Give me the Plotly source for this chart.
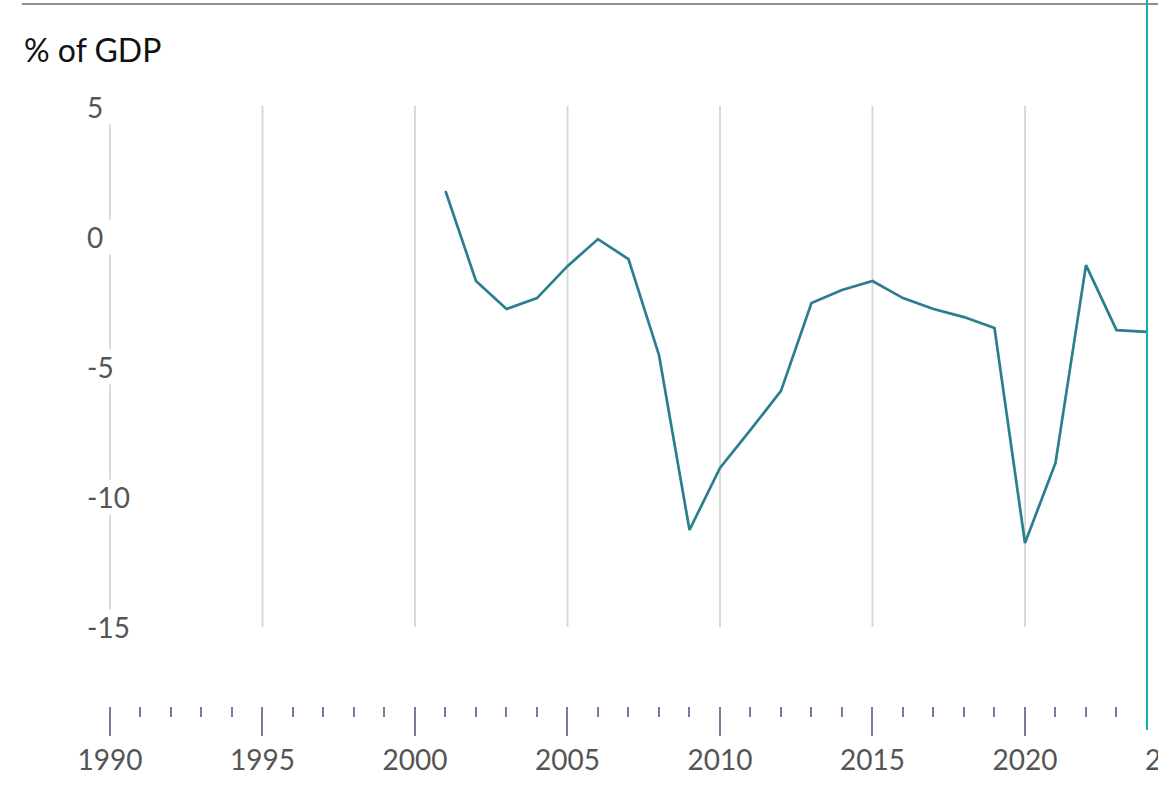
import plotly.graph_objects as go

years = list(range(2001, 2025))
balance = [1.77, -1.69, -2.77, -2.35, -1.12, -0.08, -0.85, -4.54, -11.27, -8.88,
           -7.42, -5.92, -2.54, -2.04, -1.69, -2.35, -2.77, -3.08, -3.5, -11.77,
           -8.69, -1.08, -3.58, -3.65]
y_ticks = [5, 0, -5, -10, -15]
x_major = [1990, 1995, 2000, 2005, 2010, 2015, 2020]
x_minor = [y for y in range(1991, 2025) if y % 5 != 0]
marker_year = 2024
title_text = "% of GDP"

W, H = 1158, 788
L, R, T, B = 22, 0, 80, 82
X_RANGE = [1987.115, 2024.361]
Y_RANGE = [-18.04, 6.04]
plot_h = H - T - B


def py(px):
    return (H - B - px) / plot_h


fig = go.Figure()
fig.add_trace(go.Scatter(x=years, y=balance, mode="lines",
                         line=dict(color="#2a7f8e", width=2.7), hoverinfo="skip",
                         cliponaxis=False))

shapes = []
for yr in x_major:
    shapes.append(dict(type="line", xref="x", yref="y", x0=yr, x1=yr, y0=-15, y1=5.05,
                       line=dict(color="#d9d9d9", width=2), layer="below"))
shapes.append(dict(type="line", xref="paper", yref="paper", x0=0, x1=1, y0=py(4), y1=py(4),
                   line=dict(color="#8e8e8e", width=2)))
shapes.append(dict(type="line", xref="x", yref="paper", x0=marker_year, x1=marker_year,
                   y0=py(730), y1=py(0), line=dict(color="#16aead", width=2), layer="above"))

annotations = [dict(text=title_text, xref="paper", yref="paper", x=0, y=py(50),
                    xanchor="left", yanchor="middle", showarrow=False,
                    font=dict(family="Lato", size=32, color="#111111"))]
for v in y_ticks:
    annotations.append(dict(text=str(v), xref="paper", yref="y", x=(86 - L) / (W - L - R), y=v,
                            xanchor="left", yanchor="middle", showarrow=False, align="left",
                            width=48, bgcolor="white", borderpad=0,
                            font=dict(family="Lato", size=28, color="#555555")))
annotations.append(dict(text="2025", xref="paper", yref="paper",
                        x=(2025 - X_RANGE[0]) / (X_RANGE[1] - X_RANGE[0]), y=py(759),
                        xanchor="center", yanchor="middle", showarrow=False,
                        font=dict(family="Lato", size=28, color="#555555")))

fig.update_layout(
    width=W, height=H, margin=dict(l=L, r=R, t=T, b=B),
    paper_bgcolor="white", plot_bgcolor="white", showlegend=False,
    shapes=shapes, annotations=annotations,
    xaxis=dict(range=X_RANGE, showgrid=False, zeroline=False, showline=False,
               tickmode="array", tickvals=x_major, ticktext=[str(v) for v in x_major],
               ticks="outside", ticklen=29, tickwidth=2, tickcolor="#7a7a9c",
               tickfont=dict(family="Lato", size=28, color="#555555"),
               ticklabelstandoff=0,
               minor=dict(tickmode="array", tickvals=x_minor, ticks="outside",
                          ticklen=10, tickwidth=2, tickcolor="#7a7a9c", showgrid=False),
               fixedrange=True),
    yaxis=dict(range=Y_RANGE, showgrid=False, zeroline=False, showline=False,
               showticklabels=False, ticks="", fixedrange=True),
)

fig.write_html("out.html", config={"displayModeBar": False},
               post_script="document.body.style.margin='0';document.body.style.overflow='hidden';")
